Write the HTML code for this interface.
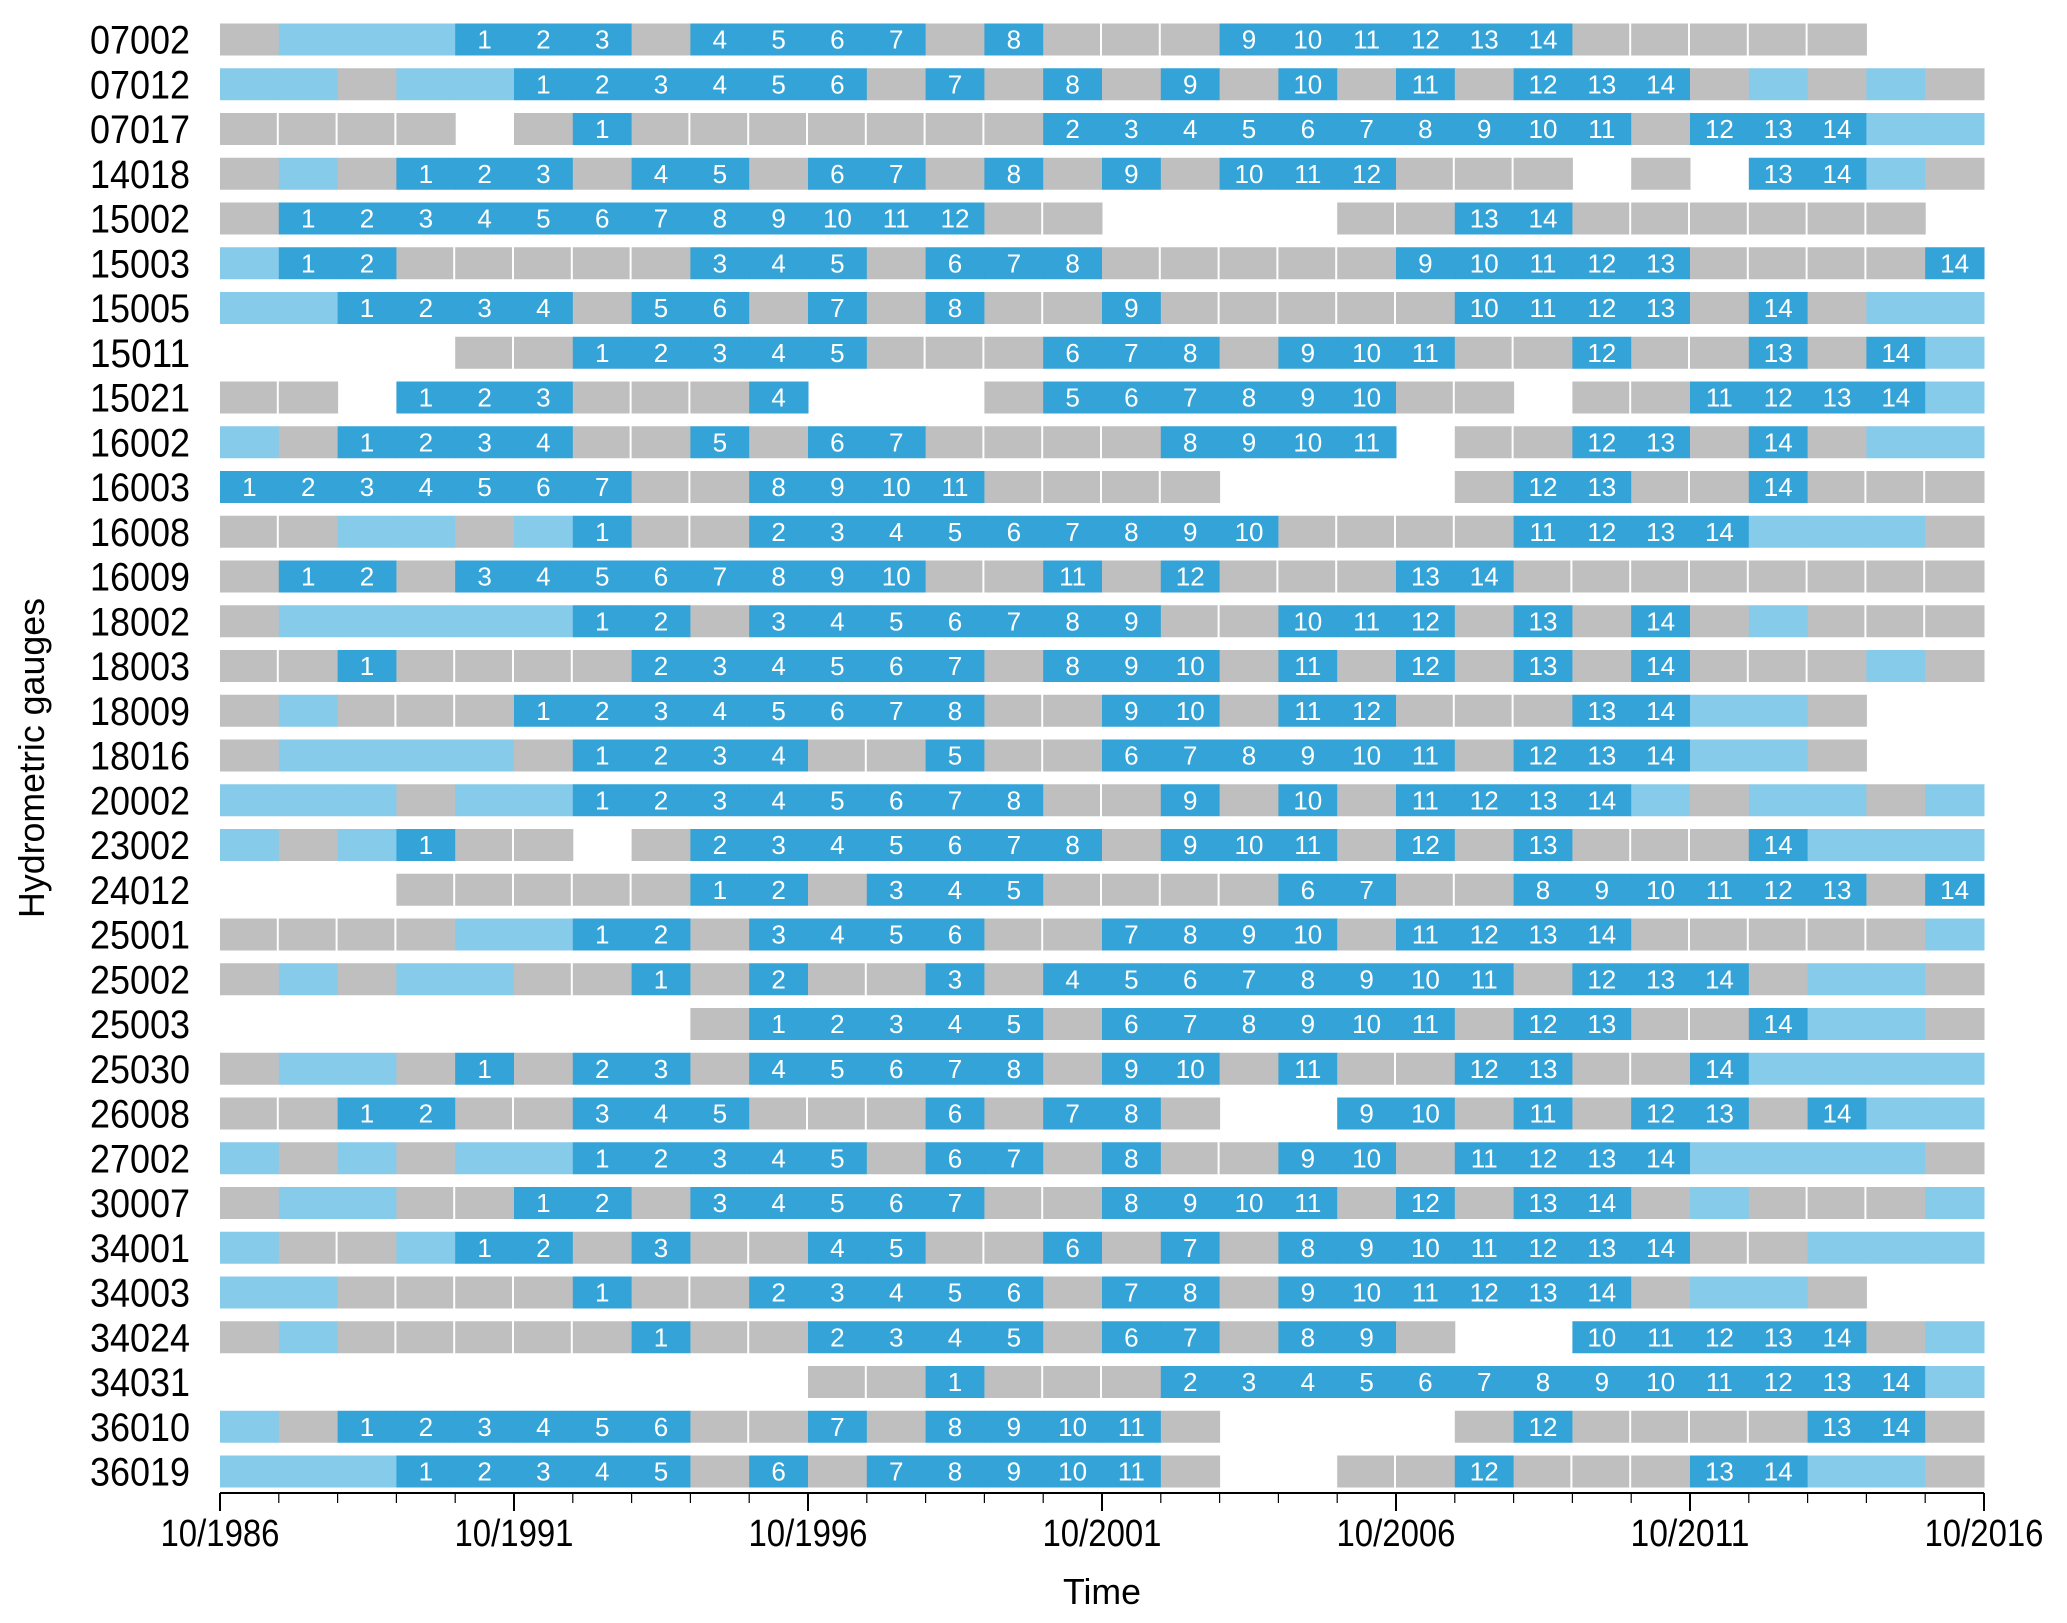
<!DOCTYPE html>
<html><head><meta charset="utf-8"><style>
html,body{margin:0;padding:0;background:#fff}
svg{display:block;font-family:"Liberation Sans",Arial,sans-serif}
</style></head><body>
<svg id="chart" width="2067" height="1623" viewBox="0 0 2067 1623" xmlns="http://www.w3.org/2000/svg">
<g id="bars"></g>
<g id="yaxis"></g>
<g id="xaxis"></g>
<text x="1102" y="1604" font-size="36" text-anchor="middle" textLength="78" lengthAdjust="spacingAndGlyphs">Time</text>
<text transform="translate(44,758) rotate(-90)" font-size="36" text-anchor="middle" textLength="320" lengthAdjust="spacingAndGlyphs">Hydrometric gauges</text>
</svg>
<script>
const gauges=["07002","07012","07017","14018","15002","15003","15005","15011","15021","16002","16003","16008","16009","18002","18003","18009","18016","20002","23002","24012","25001","25002","25003","25030","26008","27002","30007","34001","34003","34024","34031","36010","36019"];
// per hydrological year from 10/1986: g=gray, l=light blue, d=dark blue (numbered), .=no data
const yearStatus=[
"glllddd"+"g"+"dddd"+"g"+"d"+"ggg"+"dddddd"+"ggggg"+"..",
"llgll"+"dddddd"+"gdgdgdgdgdg"+"ddd"+"glglg",
"gggg.g"+"d"+"ggggggg"+"dddddddddd"+"g"+"ddd"+"ll",
"glgdddgddgddgdgdgdddggg.g.ddlg",
"g"+"dddddddddddd"+"gg"+"...."+"gg"+"dd"+"gggggg"+".",
"l"+"dd"+"ggggg"+"ddd"+"g"+"ddd"+"ggggg"+"ddddd"+"gggg"+"d",
"ll"+"dddd"+"g"+"dd"+"g"+"d"+"g"+"d"+"gg"+"d"+"ggggg"+"dddd"+"g"+"d"+"g"+"ll",
"...."+"gg"+"ddddd"+"ggg"+"ddd"+"g"+"ddd"+"gg"+"d"+"gg"+"d"+"g"+"d"+"l",
"gg."+"ddd"+"ggg"+"d"+"..."+"g"+"dddddd"+"gg"+"."+"gg"+"dddd"+"l",
"l"+"g"+"dddd"+"gg"+"d"+"g"+"dd"+"gggg"+"dddd"+"."+"gg"+"dd"+"g"+"d"+"g"+"ll",
"ddddddd"+"gg"+"dddd"+"gggg"+"...."+"g"+"dd"+"gg"+"d"+"ggg",
"gg"+"ll"+"g"+"l"+"d"+"gg"+"ddddddddd"+"g"+"ggg"+"dddd"+"lll"+"g",
"g"+"dd"+"g"+"dddddddd"+"gg"+"d"+"g"+"d"+"ggg"+"dd"+"gggggggg",
"g"+"lllll"+"dd"+"g"+"ddddddd"+"gg"+"ddd"+"g"+"d"+"g"+"d"+"g"+"l"+"ggg",
"gg"+"d"+"gggg"+"dddddd"+"g"+"ddd"+"g"+"d"+"g"+"d"+"g"+"d"+"g"+"d"+"ggg"+"l"+"g",
"g"+"l"+"ggg"+"dddddddd"+"gg"+"dd"+"g"+"dd"+"ggg"+"dd"+"ll"+"g"+"..",
"g"+"llll"+"g"+"dddd"+"gg"+"d"+"gg"+"dddddd"+"g"+"ddd"+"ll"+"g"+"..",
"lll"+"g"+"ll"+"dddddddd"+"gg"+"d"+"g"+"d"+"g"+"dddd"+"l"+"g"+"ll"+"g"+"l",
"l"+"g"+"l"+"d"+"gg"+"."+"g"+"ddddddd"+"g"+"ddd"+"g"+"d"+"g"+"d"+"ggg"+"d"+"lll",
"..."+"ggggg"+"dd"+"g"+"ddd"+"gggg"+"dd"+"gg"+"dddddd"+"g"+"d",
"gggg"+"ll"+"dd"+"g"+"dddd"+"gg"+"dddd"+"g"+"dddd"+"ggggg"+"l",
"g"+"l"+"g"+"ll"+"gg"+"d"+"g"+"d"+"gg"+"d"+"g"+"dddddddd"+"g"+"ddd"+"g"+"ll"+"g",
"........"+"g"+"ddddd"+"g"+"dddddd"+"g"+"dd"+"gg"+"d"+"ll"+"g",
"g"+"ll"+"g"+"d"+"g"+"dd"+"g"+"ddddd"+"g"+"dd"+"g"+"d"+"gg"+"dd"+"gg"+"d"+"llll",
"gg"+"dd"+"gg"+"ddd"+"ggg"+"d"+"g"+"dd"+"g"+".."+"dd"+"g"+"d"+"g"+"dd"+"g"+"d"+"ll",
"l"+"g"+"l"+"g"+"ll"+"ddddd"+"g"+"dd"+"g"+"d"+"gg"+"dd"+"g"+"dddd"+"llll"+"g",
"g"+"ll"+"gg"+"dd"+"g"+"ddddd"+"gg"+"dddd"+"g"+"d"+"g"+"dd"+"g"+"l"+"ggg"+"l",
"l"+"gg"+"l"+"dd"+"g"+"d"+"gg"+"dd"+"gg"+"d"+"g"+"d"+"g"+"ddddddd"+"gg"+"lll",
"ll"+"gggg"+"d"+"gg"+"ddddd"+"g"+"dd"+"g"+"dddddd"+"g"+"ll"+"g"+"..",
"g"+"l"+"ggggg"+"d"+"gg"+"dddd"+"g"+"dd"+"g"+"dd"+"g"+".."+"ddddd"+"g"+"l",
".........."+"gg"+"d"+"gg"+"g"+"ddddddddddddd"+"l",
"l"+"g"+"dddddd"+"gg"+"d"+"g"+"dddd"+"g"+"...."+"g"+"d"+"gggg"+"dd"+"g",
"lll"+"ddddd"+"g"+"d"+"g"+"ddddd"+"g"+".."+"gg"+"d"+"ggg"+"dd"+"ll"+"g"
];
const tickLabels=["10/1986","10/1991","10/1996","10/2001","10/2006","10/2011","10/2016"];
const startYear=1986, nYears=30;

const NS="http://www.w3.org/2000/svg";
const X0=220,X1=1984,Y0=39.5,PITCH=44.75,BH=32;
function xScale(yrs){return X0+(yrs/nYears)*(X1-X0);}
function yScale(i){return Y0+i*PITCH;}
const colors={g:"#bfbfbf",l:"#87cbea",d:"#33a3d8"};
function mk(tag,attrs,parent){const e=document.createElementNS(NS,tag);for(const k in attrs)e.setAttribute(k,attrs[k]);parent.appendChild(e);return e;}
const bars=document.getElementById('bars'),yaxis=document.getElementById('yaxis'),xaxis=document.getElementById('xaxis');
gauges.forEach((g,i)=>{
  const cy=yScale(i);
  const lab=mk('text',{x:190,y:cy+14,'font-size':40,'text-anchor':'end',fill:'#000',textLength:100,lengthAdjust:'spacingAndGlyphs'},yaxis);
  
  
  lab.textContent=g;
  const s=yearStatus[i];let n=0;
  for(let k=0;k<nYears;k++){
    const c=s[k];if(c==='.'||!c)continue;
    const x=xScale(k),w=xScale(k+1)-x;
    const r=mk('rect',{x:x,y:cy-BH/2,width:(c==='g'&&s[k+1]==='g')?w-2:w+0.5,height:BH,fill:colors[c]},bars);
    
    
    if(c==='d'){n++;
      const t=mk('text',{x:x+w/2,y:cy+9,'font-size':26,'text-anchor':'middle',fill:'#fff'},bars);
      
      
      t.textContent=n;}
  }
});
const ay=1493;
const axl=mk('line',{x1:X0,x2:X1,y1:ay,y2:ay,stroke:'#000','stroke-width':2},xaxis);


for(let k=0;k<=nYears;k++){
  const x=xScale(k),major=k%5===0;
  const tk=mk('line',{x1:x,x2:x,y1:ay,y2:ay+(major?18:10),stroke:'#000','stroke-width':major?2:1.2},xaxis);
  
  
}
tickLabels.forEach((t,j)=>{
  const e=mk('text',{x:xScale(j*5),y:1546,'font-size':38,'text-anchor':'middle',textLength:119,lengthAdjust:'spacingAndGlyphs'},xaxis);
  
  
  e.textContent=t;
});
</script>
</body></html>
